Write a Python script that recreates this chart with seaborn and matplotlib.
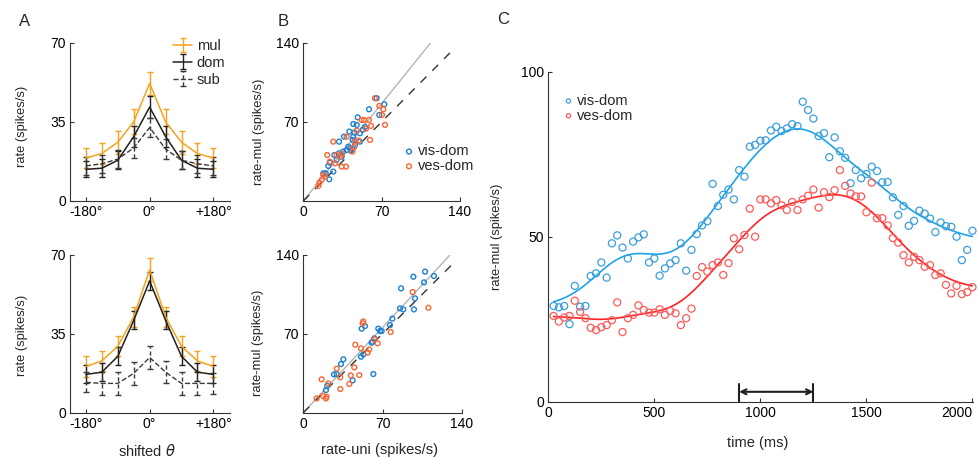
import numpy as np
import pandas as pd
import matplotlib
matplotlib.use("Agg")
import matplotlib.pyplot as plt
import seaborn as sns

# ---- panel A: tuning curves (rate vs shifted theta) ----
theta = [-180, -135, -90, -45, 0, 45, 90, 135, 180]

top_mul = [19, 21, 26, 35, 52, 35, 26, 21, 19]
top_mul_err = [4.5, 4.5, 5, 5.5, 5, 5.5, 5, 4.5, 4.5]
top_dom = [14, 14.5, 18, 28.5, 41.5, 28.5, 18, 14.5, 14]
top_dom_err = [3.5, 4, 4, 4.5, 5, 4.5, 4, 4, 3.5]
top_sub = [15.5, 16.5, 18.5, 23.5, 32.5, 23, 18, 16.5, 15.5]
top_sub_err = [4, 4, 4, 4.5, 4, 4.5, 4, 4, 4]

bot_mul = [20.5, 23, 29.5, 42.5, 63.5, 42.5, 29.5, 23, 20.5]
bot_mul_err = [4.5, 4.5, 4.5, 4.5, 5, 4.5, 4.5, 4.5, 4.5]
bot_dom = [17, 18, 25, 41, 58.5, 41, 25, 18, 17]
bot_dom_err = [4, 4, 4, 4, 4, 4, 4, 4, 4]
bot_sub = [13.5, 13, 13, 17.5, 24.5, 18, 13, 13, 13]
bot_sub_err = [4.5, 5, 5, 5, 5, 5, 5, 5, 4.5]

# ---- panel B: rate-mul vs rate-uni ----
top_vis_x = [65.5, 72.4, 58.7, 67.9, 48.6, 44.7, 47.7, 55.1, 41.1, 45.6, 50.6, 36.3, 31.9,
             44.7, 40.2, 35.7, 31.9, 27.7, 29.8, 23.8, 22.3, 20.0, 17.9, 23.2, 26.8, 34.3,
             38.7, 41.7, 46.2, 44.1, 50.6, 53.0, 42.5]
top_vis_y = [90.9, 85.5, 81.1, 76.1, 74.0, 68.1, 67.3, 65.5, 61.4, 60.5, 59.9, 56.9, 52.5,
             56.9, 48.1, 43.7, 42.2, 40.7, 36.3, 33.9, 31.0, 24.5, 24.5, 19.2, 26.0, 39.2,
             45.1, 46.6, 49.6, 54.0, 52.5, 63.0, 44.5]
top_ves_x = [64.0, 67.9, 71.5, 70.3, 60.5, 52.1, 54.2, 58.7, 73.0, 59.6, 47.7, 38.7, 26.8,
             46.2, 49.2, 43.8, 34.3, 29.8, 21.4, 23.8, 28.3, 34.3, 38.1, 32.8, 17.9, 16.4,
             14.3, 13.4, 19.4, 45.0, 56.0]
top_ves_y = [90.9, 84.1, 81.1, 76.1, 66.4, 71.7, 71.7, 71.7, 67.3, 54.0, 62.2, 56.9, 52.5,
             52.5, 53.4, 43.7, 41.6, 40.7, 40.7, 34.8, 33.3, 30.4, 30.4, 39.2, 23.0, 18.6,
             16.2, 13.3, 21.5, 47.5, 64.0]

bot_vis_x = [107.6, 115.5, 97.3, 106.7, 86.4, 98.7, 85.5, 88.4, 97.8, 78.7, 76.6, 66.3, 67.8,
             69.3, 51.6, 54.5, 61.3, 62.8, 60.4, 53.0, 51.0, 35.4, 33.3, 27.1, 29.5, 61.9,
             43.6, 21.2, 20.0]
bot_vis_y = [125.2, 121.3, 120.7, 115.7, 110.4, 101.5, 92.6, 91.7, 91.7, 83.5, 77.8, 74.6, 72.5,
             72.5, 74.6, 76.9, 63.0, 66.0, 62.1, 51.8, 49.7, 47.4, 43.2, 34.0, 34.3, 34.3,
             28.7, 24.0, 20.1]
bot_ves_x = [96.7, 110.5, 52.5, 77.2, 65.7, 46.0, 51.0, 56.9, 58.3, 62.8, 45.1, 29.5, 32.7,
             41.9, 49.5, 40.7, 16.2, 22.1, 32.7, 17.7, 20.6, 11.8, 20.0, 53.0]
bot_ves_y = [107.1, 93.2, 79.3, 71.6, 61.6, 60.4, 57.1, 53.3, 56.2, 65.1, 40.2, 39.1, 31.4,
             33.1, 33.4, 25.5, 29.6, 26.0, 21.0, 14.8, 14.2, 12.7, 12.7, 81.0]

fit_slope_top = 1.23
fit_slope_bot = 1.08

# ---- panel C: rate-mul over time ----
time_ms = list(range(25, 2001, 25))
vis_rate = [29.0, 28.6, 29.0, 23.5, 35.1, 28.8, 29.0, 38.1, 38.9, 42.2, 37.6, 48.0, 50.4, 46.7,
            43.4, 48.5, 49.8, 50.7, 42.2, 43.4, 38.2, 40.4, 41.9, 42.9, 48.0, 39.7, 46.0, 50.8,
            53.4, 54.7, 66.0, 59.3, 62.7, 64.3, 61.3, 70.2, 68.2, 77.3, 77.8, 79.1, 79.2, 82.2,
            83.3, 82.0, 82.8, 84.1, 83.5, 90.9, 88.4, 85.8, 80.5, 81.4, 74.1, 80.1, 75.9, 73.9,
            66.2, 70.2, 67.7, 69.0, 71.2, 69.9, 66.5, 66.6, 61.9, 56.6, 59.3, 53.3, 54.8, 57.9,
            57.0, 55.5, 51.4, 54.3, 53.2, 53.0, 50.0, 42.9, 46.0, 51.8]
ves_rate = [26.0, 24.3, 25.5, 26.0, 30.6, 27.2, 25.3, 22.4, 21.7, 22.6, 23.2, 24.7, 30.1, 21.1,
            25.3, 26.3, 29.2, 27.8, 27.0, 27.0, 28.0, 26.3, 27.5, 26.8, 23.2, 25.3, 28.2, 38.1,
            40.8, 39.4, 41.4, 42.2, 38.4, 42.0, 49.5, 46.2, 50.5, 58.5, 50.0, 61.3, 61.3, 60.1,
            61.1, 59.5, 58.1, 60.5, 58.1, 61.3, 62.4, 64.3, 58.8, 63.5, 62.0, 64.1, 70.2, 65.4,
            63.1, 62.2, 62.2, 57.4, 66.4, 55.6, 55.6, 53.4, 49.6, 48.2, 44.4, 42.2, 43.9, 42.9,
            40.9, 41.4, 38.4, 38.9, 35.4, 32.8, 35.1, 32.6, 33.2, 34.7]
window_ms = [900, 1250]

ORANGE = "#f7a21c"
DARK = "#231f20"
SUBC = "#3a3a3a"
B_BLUE = "#1b80d3"
B_RED = "#fb6433"
C_BLUE = "#3a9edb"
C_RED = "#ff5a5a"
L_BLUE = "#1aa5e8"
L_RED = "#ff2222"

TICK_FS = 10
H_FS = 10.5   # horizontal labels / legends
V_FS = 9.3    # vertical axis labels


def smooth(t, y, bw, grid):
    # gaussian kernel smoother (local constant)
    t = np.asarray(t, float)
    y = np.asarray(y, float)
    w = np.exp(-0.5 * ((grid[:, None] - t[None, :]) / bw) ** 2)
    return (w * y).sum(axis=1) / w.sum(axis=1)


def style_axes(ax):
    sns.despine(ax=ax)
    for s in ["left", "bottom"]:
        ax.spines[s].set_color("#333333")
        ax.spines[s].set_linewidth(0.8)
    ax.tick_params(direction="in", length=3, width=0.8, colors="#333333",
                   labelcolor="black", labelsize=TICK_FS, pad=3)


sns.set_theme(style="ticks")
plt.rcParams["font.family"] = ["Liberation Sans", "DejaVu Sans"]
plt.rcParams["mathtext.fontset"] = "dejavusans"

fig = plt.figure(figsize=(9.79, 4.59), dpi=100)
W, H = 979.0, 459.0


def add_ax(l, t, r, b):
    return fig.add_axes([l / W, 1 - b / H, (r - l) / W, (b - t) / H])


# ---------- A ----------
axA = [add_ax(70, 42.7, 230, 201), add_ax(70, 255, 230, 412.7)]
sets = [(top_mul, top_mul_err, top_dom, top_dom_err, top_sub, top_sub_err),
        (bot_mul, bot_mul_err, bot_dom, bot_dom_err, bot_sub, bot_sub_err)]
for i, ax in enumerate(axA):
    mul, mule, dom, dome, sub, sube = sets[i]
    h1 = ax.errorbar(theta, mul, yerr=mule, color=ORANGE, lw=1.1, elinewidth=1, capsize=2, label="mul")
    h2 = ax.errorbar(theta, dom, yerr=dome, color=DARK, lw=1.1, elinewidth=1, capsize=2, label="dom")
    h3 = ax.errorbar(theta, sub, yerr=sube, color=SUBC, lw=1.0, ls="--", elinewidth=1, capsize=2,
                     label="sub")
    h3[-1][0].set_linestyle((0, (3, 2)))
    ax.set_xlim(-225, 227)
    ax.set_ylim(0, 70)
    ax.set_xticks([-180, 0, 180])
    ax.set_xticklabels(["-180°", "0°", "+180°"])
    ax.set_yticks([0, 35, 70])
    ax.set_ylabel("rate (spikes/s)", fontsize=V_FS)
    style_axes(ax)
    if i == 0:
        ax.yaxis.set_label_coords(-0.26, 0.47)
        ax.legend(handles=[h1, h2, h3], loc="upper left", bbox_to_anchor=(0.6, 1.07),
                  frameon=False, fontsize=H_FS, handlelength=1.3, handletextpad=0.3,
                  labelspacing=0.2, borderpad=0)
    else:
        ax.yaxis.set_label_coords(-0.26, 0.49)
        ax.set_xlabel(r"shifted $\theta$", fontsize=H_FS)
        ax.xaxis.set_label_coords(0.48, -0.19)

# ---------- B ----------
axB = [add_ax(303.3, 42.7, 460, 201), add_ax(303.3, 255, 461.7, 412.7)]
bsets = [(top_vis_x, top_vis_y, top_ves_x, top_ves_y, fit_slope_top),
         (bot_vis_x, bot_vis_y, bot_ves_x, bot_ves_y, fit_slope_bot)]
for i, ax in enumerate(axB):
    vx, vy, rx, ry, slope = bsets[i]
    ax.plot([0, 140 / slope], [0, 140], color="#b4b4b4", lw=1)
    ax.plot([0, 133], [0, 133], color="#333333", lw=1, dashes=(6, 6))
    dfv = pd.DataFrame({"uni": vx, "mul": vy})
    dfr = pd.DataFrame({"uni": rx, "mul": ry})
    sns.scatterplot(data=dfv, x="uni", y="mul", ax=ax, marker="o", s=12, facecolor="none",
                    edgecolor=B_BLUE, linewidth=1.0, label="vis-dom", zorder=3)
    sns.scatterplot(data=dfr, x="uni", y="mul", ax=ax, marker="o", s=12, facecolor="none",
                    edgecolor=B_RED, linewidth=1.0, label="ves-dom", zorder=3)
    ax.set_xlim(0, 140)
    ax.set_ylim(0, 140)
    ax.set_xticks([0, 70, 140])
    ax.set_yticks([70, 140])
    ax.set_ylabel("rate-mul (spikes/s)", fontsize=V_FS)
    ax.yaxis.set_label_coords(-0.245, 0.44)
    style_axes(ax)
    if i == 0:
        ax.set_xlabel("")
        ax.legend(loc="lower left", bbox_to_anchor=(0.6, 0.13), frameon=False, fontsize=H_FS,
                  handlelength=0.6, handletextpad=0.3, labelspacing=0.05, borderpad=0)
    else:
        ax.legend().remove()
        ax.set_xlabel("rate-uni (spikes/s)", fontsize=H_FS)
        ax.xaxis.set_label_coords(0.48, -0.19)

# ---------- C ----------
axC = add_ax(548.3, 71.7, 973.5, 401.7)
grid = np.linspace(25, 2000, 400)
dfc = pd.DataFrame({"time": time_ms * 2, "rate": vis_rate + ves_rate,
                    "cond": ["vis-dom"] * len(time_ms) + ["ves-dom"] * len(time_ms)})
for cond, mc, lc, vals in [("vis-dom", C_BLUE, L_BLUE, vis_rate), ("ves-dom", C_RED, L_RED, ves_rate)]:
    sub = dfc[dfc["cond"] == cond]
    sns.scatterplot(data=sub, x="time", y="rate", ax=axC, marker="o", s=26, facecolor="none",
                    edgecolor=mc, linewidth=0.9, label=cond, clip_on=False, zorder=3)
    axC.plot(grid, smooth(time_ms, vals, 110, grid), color=lc, lw=1.2, zorder=2)

axC.annotate("", xy=(window_ms[1], 3), xytext=(window_ms[0], 3),
             arrowprops=dict(arrowstyle="<->", color=DARK, lw=1.5, shrinkA=0, shrinkB=0,
                             mutation_scale=9))
for wx in window_ms:
    axC.plot([wx, wx], [0, 5.5], color=DARK, lw=1.5, clip_on=False)

axC.set_xlim(0, 2005)
axC.set_ylim(0, 100)
axC.set_xticks([0, 500, 1000, 1500, 2000])
axC.set_yticks([0, 50, 100])
axC.set_xlabel("time (ms)", fontsize=H_FS)
axC.set_ylabel("rate-mul (spikes/s)", fontsize=V_FS)
axC.xaxis.set_label_coords(0.492, -0.105)
axC.yaxis.set_label_coords(-0.107, 0.5)
style_axes(axC)
last = axC.get_xticklabels()[-1]
last.set_horizontalalignment("right")
axC.legend(loc="upper left", bbox_to_anchor=(0.02, 0.955), frameon=False, fontsize=H_FS,
           handlelength=0.6, handletextpad=0.3, labelspacing=0.05, borderpad=0, markerscale=0.6)

# panel letters
for letter, px, py in [("A", 25, 22), ("B", 283, 22), ("C", 503, 20)]:
    fig.text(px / W, 1 - py / H, letter, fontsize=12, ha="center", va="center")

fig.savefig("out.png", dpi=100)
